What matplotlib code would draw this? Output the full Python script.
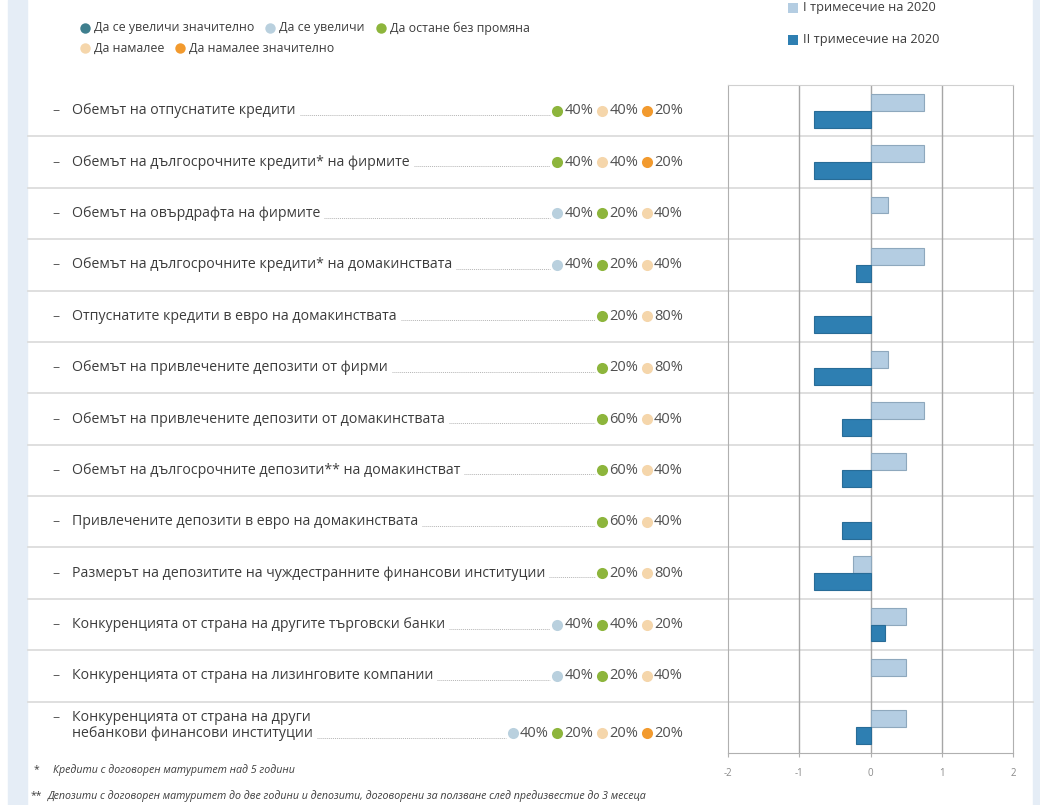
import numpy as np
import matplotlib.pyplot as plt
from matplotlib.transforms import blended_transform_factory

# --- données ---
labels = [
    "Обемът на отпуснатите кредити",
    "Обемът на дългосрочните кредити* на фирмите",
    "Обемът на овърдрафта на фирмите",
    "Обемът на дългосрочните кредити* на домакинствата",
    "Отпуснатите кредити в евро на домакинствата",
    "Обемът на привлечените депозити от фирми",
    "Обемът на привлечените депозити от домакинствата",
    "Обемът на дългосрочните депозити** на домакинстват",
    "Привлечените депозити в евро на домакинствата",
    "Размерът на депозитите на чуждестранните финансови институции",
    "Конкуренцията от страна на другите търговски банки",
    "Конкуренцията от страна на лизинговите компании",
    "Конкуренцията от страна на други\nнебанкови финансови институции",
]
q1_2020 = [0.75, 0.75, 0.25, 0.75, 0.0, 0.25, 0.75, 0.5, 0.0, -0.25, 0.5, 0.5, 0.5]
q2_2020 = [-0.8, -0.8, 0.0, -0.2, -0.8, -0.8, -0.4, -0.4, -0.4, -0.8, 0.2, 0.0, -0.2]

answer_names = ["Да се увеличи значително", "Да се увеличи", "Да остане без промяна",
                "Да намалее", "Да намалее значително"]
answer_colors = ["#3f7f8e", "#b9d0de", "#8db53c", "#f5d6ab", "#f29a2e"]

# категория на отговора и дял (%) за всеки ред
share_cats = [[2, 3, 4], [2, 3, 4], [1, 2, 3], [1, 2, 3], [2, 3], [2, 3], [2, 3],
              [2, 3], [2, 3], [2, 3], [1, 2, 3], [1, 2, 3], [1, 2, 3, 4]]
share_vals = [[40, 40, 20], [40, 40, 20], [40, 20, 40], [40, 20, 40], [20, 80], [20, 80],
              [60, 40], [60, 40], [60, 40], [20, 80], [40, 40, 20], [40, 20, 40],
              [40, 20, 20, 20]]

series_names = ["I тримесечие на 2020", "II тримесечие на 2020"]
series_colors = ["#b4cde2", "#2e7fb2"]
series_edges = ["#8ea8bd", "#286c97"]

footnotes = ["Кредити с договорен матуритет над 5 години",
             "Депозити с договорен матуритет до две години и депозити, договорени за ползване след предизвестие до 3 месеца"]

plt.rcParams['font.family'] = ['Open Sans', 'DejaVu Sans']
TXT = "#3c3c3c"
W, H = 1040, 805
FS = 10.2

fig = plt.figure(figsize=(W / 100, H / 100), dpi=100)
ov = fig.add_axes([0, 0, 1, 1])
ov.set_xlim(0, W)
ov.set_ylim(H, 0)
ov.axis("off")

# bandes latérales
ov.axvspan(8, 27, color="#e5edf6", zorder=0)
ov.axvspan(1033, W, color="#e5edf6", zorder=0)

# --- axe des barres ---
ax = fig.add_axes([728 / W, 1 - 753 / H, 285 / W, (753 - 85) / H])
n = len(labels)
y = np.arange(n)
bh = 0.33
ax.barh(y - bh / 2, q1_2020, height=bh, color=series_colors[0],
        edgecolor=series_edges[0], linewidth=[0.8 if v != 0 else 0 for v in q1_2020], zorder=3)
ax.barh(y + bh / 2, q2_2020, height=bh, color=series_colors[1],
        edgecolor=series_edges[1], linewidth=[0.8 if v != 0 else 0 for v in q2_2020], zorder=3)
ax.set_xlim(-2, 2)
ax.set_ylim(n - 0.5, -0.5)
ax.set_yticks([])
ax.set_xticks([-2, -1, 0, 1, 2])
ax.set_xticklabels(["-2", "-1", "0", "1", "2"])
ax.tick_params(axis="x", length=3, color="#b0b0b0", labelsize=7, labelcolor="#8a8a8a", pad=8)
for v in [-1, 0, 1]:
    ax.axvline(v, color="#a6a6a6", linewidth=1.0, zorder=2)
for s in ax.spines.values():
    s.set_color("#b0b0b0")
ax.spines["top"].set_color("#d0d0d0")

# lignes de séparation des rangées (sur toute la largeur)
tr = blended_transform_factory(ov.transData, ax.transData)
for k in range(n - 1):
    ax.plot([28, 1033], [k + 0.5, k + 0.5], transform=tr, color="#dcdcdc",
            linewidth=1.3, clip_on=False, zorder=1)

renderer = fig.canvas.get_renderer()

# --- libellés, pointillés et pourcentages ---
for i, lab in enumerate(labels):
    lines = lab.split("\n")
    if len(lines) == 1:
        ax.text(52, i, "–", transform=tr, fontsize=FS, color="#606060", va="center", ha="left")
        t = ax.text(72, i, lab, transform=tr, fontsize=FS, color=TXT, va="center", ha="left")
        ty = i
    else:
        ax.text(52, i - 0.19, "–", transform=tr, fontsize=FS, color="#606060", va="center", ha="left")
        ax.text(72, i - 0.19, lines[0], transform=tr, fontsize=FS, color=TXT, va="center", ha="left")
        t = ax.text(72, i + 0.12, lines[1], transform=tr, fontsize=FS, color=TXT, va="center", ha="left")
        ty = i + 0.12
    text_end = t.get_window_extent(renderer).x1

    x = 683
    for cat, val in zip(share_cats[i][::-1], share_vals[i][::-1]):
        pt = ax.text(x, ty, f"{val}%", transform=tr, fontsize=10.5, color="#505050",
                     va="center", ha="right")
        w = pt.get_window_extent(renderer).width
        cx = x - w - 7
        ax.plot([cx], [ty], transform=tr, marker="o", markersize=8,
                color=answer_colors[cat], markeredgewidth=0, clip_on=False)
        x = cx - 9
    ax.plot([text_end + 4, x + 2], [ty + 0.08, ty + 0.08], transform=tr, color="#b5b5b5",
            linestyle=(0, (1, 1)), linewidth=0.7, clip_on=False)

# --- légende des réponses (en haut à gauche) ---
legend_rows = [[0, 1, 2], [3, 4]]
legend_y = [28, 48]
for row, ly in zip(legend_rows, legend_y):
    lx = 85
    for cat in row:
        ov.plot([lx], [ly], marker="o", markersize=7.5, color=answer_colors[cat], markeredgewidth=0)
        lt = ov.text(lx + 9, ly, answer_names[cat], fontsize=8.9, color=TXT, va="center", ha="left")
        lx = lt.get_window_extent(renderer).x1 + 16

# --- légende des séries (en haut à droite) ---
for name, col, ly in zip(series_names, series_colors, [8, 40]):
    ov.plot([793], [ly], marker="s", markersize=7, color=col, markeredgewidth=0)
    ov.text(803, ly, name, fontsize=9.2, color=TXT, va="center", ha="left")

# --- notes de bas de page ---
ov.text(34, 770, "*", fontsize=7.5, color=TXT, va="center", ha="left")
ov.text(53, 770, footnotes[0], fontsize=7.7, style="italic", color=TXT, va="center", ha="left")
ov.text(31, 796, "**", fontsize=7.5, color=TXT, va="center", ha="left")
ov.text(48, 796, footnotes[1], fontsize=7.7, style="italic", color=TXT, va="center", ha="left")

fig.savefig("out.png", dpi=100)
